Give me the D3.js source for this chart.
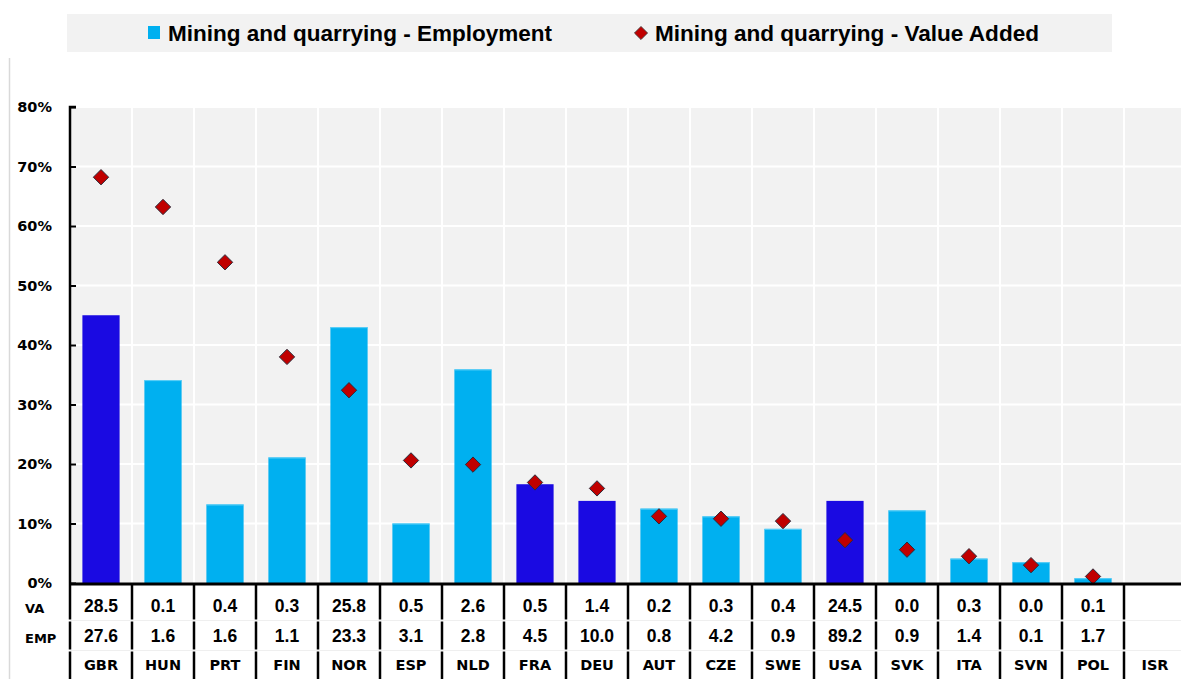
<!DOCTYPE html>
<html>
<head>
<meta charset="utf-8">
<script src="https://cdn.jsdelivr.net/npm/d3@7"></script>
<style>
  html, body { margin: 0; padding: 0; background: #fff; }
  svg { display: block; }
</style>
</head>
<body>
<svg id="chart" width="1181" height="679"></svg>
<script>
// Countries, ordered by value-added share
const countries = ["GBR","HUN","PRT","FIN","NOR","ESP","NLD","FRA","DEU","AUT","CZE","SWE","USA","SVK","ITA","SVN","POL","ISR"];
// Employment share (bars), in percent
const empShare = [45.0, 34.1, 13.2, 21.1, 43.0, 10.0, 35.9, 16.6, 13.8, 12.5, 11.2, 9.1, 13.8, 12.2, 4.1, 3.5, 0.8, null];
// Value-added share (diamonds), in percent
const vaShare = [68.2, 63.2, 53.9, 38.0, 32.4, 20.6, 19.9, 16.9, 15.9, 11.2, 10.8, 10.4, 7.2, 5.6, 4.5, 3.0, 1.1, null];
// Table rows below the axis
const vaLabels = ["28.5","0.1","0.4","0.3","25.8","0.5","2.6","0.5","1.4","0.2","0.3","0.4","24.5","0.0","0.3","0.0","0.1",""];
const empLabels = ["27.6","1.6","1.6","1.1","23.3","3.1","2.8","4.5","10.0","0.8","4.2","0.9","89.2","0.9","1.4","0.1","1.7",""];
// Countries drawn in the darker shade
const highlighted = ["GBR","FRA","DEU","USA"];
const yTicks = [0, 10, 20, 30, 40, 50, 60, 70, 80];
const legendLabels = ["Mining and quarrying - Employment", "Mining and quarrying - Value Added"];

const COL_LIGHT = "#00b0f0";
const COL_DARK = "#1a0ae2";
const COL_DIAMOND = "#c00000";

const svg = d3.select("#chart");
const plot = { left: 70, right: 1186, top: 107, bottom: 583 };

const x = d3.scaleBand()
  .domain(countries)
  .range([plot.left, plot.right])
  .paddingInner(0.4)
  .paddingOuter(0.2);
const step = x.step();
const y = d3.scaleLinear().domain([0, 80]).range([plot.bottom, plot.top]);

// thin frame line on the left
svg.append("line")
  .attr("x1", 9.5).attr("x2", 9.5).attr("y1", 58).attr("y2", 679)
  .attr("stroke", "#d9d9d9").attr("stroke-width", 1.5);

// legend
const lg = svg.append("g");
lg.append("rect").attr("x", 67).attr("y", 14).attr("width", 1045).attr("height", 38).attr("fill", "#f2f2f2");
lg.append("rect").attr("x", 148).attr("y", 26).attr("width", 12).attr("height", 13).attr("fill", COL_LIGHT);
lg.append("path")
  .attr("d", d3.symbol().type(d3.symbolDiamond2).size(110)())
  .attr("transform", "translate(641,33)")
  .attr("fill", COL_DIAMOND).attr("stroke", "#333").attr("stroke-width", 0.8);
const legendFont = "'Liberation Sans', Arial, sans-serif";
[[168, legendLabels[0]], [655, legendLabels[1]]].forEach(([lx, txt]) => {
  lg.append("text")
    .attr("x", lx).attr("y", 40.5)
    .attr("font-family", legendFont)
    .attr("font-weight", "bold").attr("font-size", 22)
    .attr("textLength", 384).attr("lengthAdjust", "spacingAndGlyphs")
    .attr("fill", "#000").text(txt);
});

// plot background
svg.append("rect")
  .attr("x", plot.left).attr("y", plot.top)
  .attr("width", 1181 - plot.left).attr("height", plot.bottom - plot.top)
  .attr("fill", "#f2f2f2");

// grid
const grid = svg.append("g").attr("stroke", "#ffffff").attr("stroke-width", 2);
grid.selectAll("line.h").data(yTicks.slice(1)).join("line")
  .attr("x1", plot.left).attr("x2", 1181)
  .attr("y1", d => y(d)).attr("y2", d => y(d));
grid.selectAll("line.v").data(countries.slice(1)).join("line")
  .attr("x1", d => x(d) - step * 0.2).attr("x2", d => x(d) - step * 0.2)
  .attr("y1", plot.top).attr("y2", plot.bottom);

// bars
const rows = countries.map((c, i) => ({ c, emp: empShare[i], va: vaShare[i] }));
svg.append("g").selectAll("rect").data(rows.filter(d => d.emp != null)).join("rect")
  .attr("x", d => x(d.c)).attr("width", x.bandwidth())
  .attr("y", d => y(d.emp)).attr("height", d => y(0) - y(d.emp))
  .attr("fill", d => highlighted.includes(d.c) ? COL_DARK : COL_LIGHT);
// lighter top edge on the light bars
svg.append("g").selectAll("line").data(rows.filter(d => d.emp != null && !highlighted.includes(d.c))).join("line")
  .attr("x1", d => x(d.c)).attr("x2", d => x(d.c) + x.bandwidth())
  .attr("y1", d => y(d.emp) + 0.5).attr("y2", d => y(d.emp) + 0.5)
  .attr("stroke", "#5fd0f7").attr("stroke-width", 1);

// y axis, ticks pointing into the plot
const yAxis = d3.axisLeft(y).tickValues(yTicks).tickSize(-6).tickPadding(18)
  .tickFormat(d => d + "%");
const ya = svg.append("g").attr("transform", `translate(${plot.left},0)`).call(yAxis);
ya.select(".domain").attr("stroke", "#000").attr("stroke-width", 2.5)
  .attr("d", `M6,${plot.top}H0V${plot.bottom}`);
ya.selectAll(".tick line").attr("stroke", "#000").attr("stroke-width", 2);
ya.selectAll(".tick text")
  .attr("font-family", "'DejaVu Sans', Verdana, sans-serif")
  .attr("font-weight", "bold").attr("font-size", 14.5).attr("fill", "#000");

// value-added diamonds
svg.append("g").selectAll("path").data(rows.filter(d => d.va != null)).join("path")
  .attr("d", d3.symbol().type(d3.symbolDiamond2).size(150)())
  .attr("transform", d => `translate(${x(d.c) + x.bandwidth() / 2},${y(d.va)})`)
  .attr("fill", COL_DIAMOND).attr("stroke", "#2b2b3a").attr("stroke-width", 1);

// table below the axis
const rowY = [606, 636, 665];
const tbl = svg.append("g");
tbl.selectAll("line.sep").data([620.5, 650.5]).join("line")
  .attr("x1", plot.left).attr("x2", 1181)
  .attr("y1", d => d).attr("y2", d => d)
  .attr("stroke", "#efefef").attr("stroke-width", 1);
const bounds = countries.map(c => x(c) - step * 0.2);
const segs = [[583, 619.5], [621.5, 649.5], [651.5, 679]];
bounds.forEach(bx => {
  segs.forEach(([a, b]) => {
    tbl.append("line")
      .attr("x1", bx).attr("x2", bx).attr("y1", a).attr("y2", b)
      .attr("stroke", "#000").attr("stroke-width", 2.5);
  });
});
const valFont = "'Liberation Sans', Arial, sans-serif";
[[vaLabels, rowY[0]], [empLabels, rowY[1]]].forEach(([labels, ry]) => {
  tbl.selectAll(null).data(countries).join("text")
    .attr("x", d => x(d) + x.bandwidth() / 2).attr("y", ry)
    .attr("text-anchor", "middle").attr("dominant-baseline", "central")
    .attr("font-family", valFont).attr("font-weight", "bold").attr("font-size", 17.5)
    .attr("fill", "#000")
    .text((d, i) => labels[i]);
});
tbl.selectAll(null).data(countries).join("text")
  .attr("x", d => x(d) + x.bandwidth() / 2).attr("y", rowY[2])
  .attr("text-anchor", "middle").attr("dominant-baseline", "central")
  .attr("font-family", "'DejaVu Sans', Verdana, sans-serif").attr("font-weight", "bold").attr("font-size", 14.5)
  .attr("fill", "#000")
  .text(d => d);
[["VA", rowY[0]], ["EMP", rowY[1]]].forEach(([t, ry]) => {
  tbl.append("text")
    .attr("x", 25).attr("y", ry + 2)
    .attr("dominant-baseline", "central")
    .attr("font-family", "'DejaVu Sans', Verdana, sans-serif").attr("font-weight", "bold").attr("font-size", 13)
    .attr("fill", "#000").text(t);
});

// x axis line
svg.append("line")
  .attr("x1", plot.left - 1).attr("x2", 1181)
  .attr("y1", plot.bottom + 1).attr("y2", plot.bottom + 1)
  .attr("stroke", "#000").attr("stroke-width", 3);
</script>
</body>
</html>
